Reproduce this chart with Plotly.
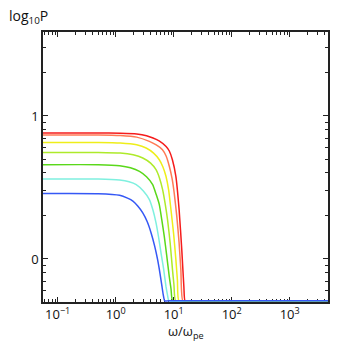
import numpy as np
import plotly.graph_objects as go

# curves: omega/omega_pe and log10 P (floor at the bottom of the frame)
red_w = [0.05, 0.5, 1.2, 2.3, 3.4, 4.4, 5.6, 7.4, 8.4, 9.5, 10.9, 12.4, 13.8, 15.0, 15.7, 20, 5000]
red_p = [0.881, 0.881, 0.879, 0.874, 0.862, 0.846, 0.826, 0.787, 0.755, 0.694, 0.578, 0.345, 0.06, -0.2, -0.293, -0.293, -0.293]

orange_w = [0.05, 0.5, 1.2, 2.3, 3.8, 5.0, 6.4, 7.4, 8.4, 9.4, 10.2, 11.3, 12.4, 13.3, 14.4, 20, 5000]
orange_p = [0.867, 0.867, 0.863, 0.852, 0.822, 0.797, 0.764, 0.72, 0.648, 0.56, 0.462, 0.30, 0.112, -0.08, -0.293, -0.293, -0.293]

yellow_w = [0.05, 0.5, 1.2, 2.3, 3.35, 4.5, 5.65, 6.5, 7.36, 8.2, 9.0, 10.0, 10.9, 11.6, 12.3, 20, 5000]
yellow_p = [0.815, 0.815, 0.811, 0.798, 0.776, 0.74, 0.694, 0.645, 0.578, 0.48, 0.34, 0.17, -0.005, -0.15, -0.293, -0.293, -0.293]

ygreen_w = [0.05, 0.5, 1.2, 2.0, 2.93, 4.0, 4.96, 5.7, 6.44, 7.1, 7.83, 8.7, 9.53, 10.1, 10.8, 20, 5000]
ygreen_p = [0.745, 0.745, 0.741, 0.728, 0.706, 0.67, 0.624, 0.565, 0.485, 0.39, 0.275, 0.11, -0.075, -0.18, -0.293, -0.293, -0.293]

green_w = [0.05, 0.5, 1.17, 1.8, 2.57, 3.4, 4.34, 5.0, 5.65, 6.2, 6.88, 7.6, 8.38, 9.0, 9.6, 20, 5000]
green_p = [0.659, 0.659, 0.652, 0.638, 0.613, 0.575, 0.52, 0.45, 0.38, 0.28, 0.158, 0.02, -0.122, -0.21, -0.293, -0.293, -0.293]

cyan_w = [0.05, 0.5, 1.17, 1.7, 2.26, 3.0, 3.81, 4.4, 4.96, 5.5, 6.04, 6.7, 7.36, 7.8, 8.3, 20, 5000]
cyan_p = [0.559, 0.559, 0.552, 0.54, 0.52, 0.475, 0.415, 0.34, 0.252, 0.15, 0.042, -0.07, -0.192, -0.25, -0.293, -0.293, -0.293]

blue_w = [0.05, 0.5, 1.17, 1.6, 1.98, 2.4, 2.93, 3.5, 4.08, 4.7, 5.28, 5.8, 6.28, 6.6, 7.0, 8.0, 20, 5000]
blue_p = [0.457, 0.456, 0.445, 0.425, 0.405, 0.37, 0.322, 0.26, 0.182, 0.09, -0.005, -0.1, -0.192, -0.25, -0.293, -0.293, -0.293, -0.293]

x_ticks = [0.1, 1, 10, 100, 1000]
x_labels = ["10<sup>−1</sup>", "10<sup>0</sup>", "10<sup>1</sup>", "10<sup>2</sup>", "10<sup>3</sup>"]
y_ticks = [0, 1]
y_labels = ["0", "1"]

curves = [
    (red_w, red_p, "#f51c1c"),
    (orange_w, orange_p, "#ff7a55"),
    (yellow_w, yellow_p, "#eeee1a"),
    (ygreen_w, ygreen_p, "#aeea2a"),
    (green_w, green_p, "#5ad81a"),
    (cyan_w, cyan_p, "#7ff0df"),
    (blue_w, blue_p, "#3558f5"),
]

fig = go.Figure()
for w, p, c in curves:
    fig.add_trace(go.Scatter(x=w, y=p, mode="lines", line=dict(color=c, width=1.5, shape="spline", smoothing=0.5),
                             showlegend=False, hoverinfo="skip"))

# minor tick positions
x_minor = [m * 10.0**k for k in range(-2, 4) for m in range(2, 10)]
y_minor = list(np.log10([0.5, 0.6, 0.7, 0.8, 0.9] + list(range(2, 10)) + [20, 30]))

fnt = dict(family="Open Sans, Liberation Sans, sans-serif", size=13, color="#111")
axcol = "#222"

fig.update_layout(
    width=341, height=347,
    margin=dict(l=43, r=11, t=32, b=45),
    paper_bgcolor="white", plot_bgcolor="white",
    font=fnt,
    xaxis=dict(type="log", range=[-1.253, 3.66], tickvals=x_ticks, ticktext=x_labels,
               showline=True, linecolor=axcol, linewidth=1.5, mirror="ticks",
               ticks="inside", ticklen=5, tickwidth=1, tickcolor=axcol,
               showgrid=False, zeroline=False, layer="below traces",
               minor=dict(tickvals=x_minor, ticks="inside", ticklen=3, tickwidth=1, tickcolor=axcol, showgrid=False)),
    yaxis=dict(range=[-0.301, 1.587], tickvals=y_ticks, ticktext=y_labels,
               showline=True, linecolor=axcol, linewidth=1.5, mirror="ticks",
               ticks="inside", ticklen=5, tickwidth=1, tickcolor=axcol,
               showgrid=False, zeroline=False,
               minor=dict(tickvals=y_minor, ticks="inside", ticklen=3, tickwidth=1, tickcolor=axcol, showgrid=False)),
)

fig.add_annotation(text="log<sub>10</sub>P", xref="paper", yref="paper", x=-0.05, y=1.059,
                   showarrow=False, xanchor="center", yanchor="middle", font=dict(size=14))
fig.add_annotation(text="ω/ω<sub>pe</sub>", xref="paper", yref="paper", x=0.5, y=-0.111,
                   showarrow=False, xanchor="center", yanchor="middle", font=fnt)

fig.write_html("out.html", config={"displayModeBar": False},
               post_script="document.body.style.margin='0';")
